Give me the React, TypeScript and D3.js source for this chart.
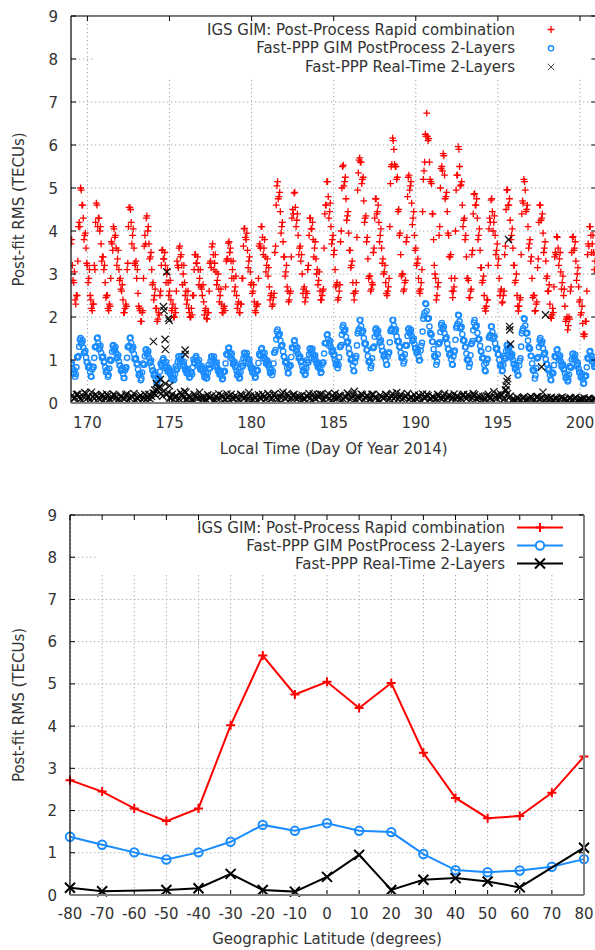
import React from "react";
import * as d3 from "d3";

// ---------- Top panel data (station A samples every 2 h from DOY 169.0) ----------
const igsRms: number[] = [
  3.7, 3.2, 2.8, 2.4, 2.5, 3.3, 4.2, 5.0, 4.6, 4.3, 3.9, 3.6,
  3.2, 2.9, 2.5, 2.2, 2.3, 3.2, 4.2, 4.6, 4.3, 4.0, 3.7, 3.4,
  3.1, 2.8, 2.5, 2.2, 2.3, 2.9, 3.7, 4.1, 3.85, 3.6, 3.35, 3.1,
  2.9, 2.6, 2.4, 2.1, 2.3, 3.1, 4.1, 4.55, 4.2, 3.9, 3.6, 3.2,
  2.9, 2.55, 2.2, 1.9, 2.1, 2.9, 3.9, 4.3, 4.0, 3.7, 3.4, 3.1,
  2.8, 2.5, 2.2, 1.9, 2.1, 2.5, 3.2, 3.56, 3.35, 3.2, 3.0, 2.8,
  2.6, 2.4, 2.2, 2.0, 2.2, 2.6, 3.2, 3.6, 3.4, 3.2, 3.0, 2.8,
  2.6, 2.4, 2.2, 2.0, 2.2, 2.5, 3.1, 3.45, 3.25, 3.1, 2.9, 2.7,
  2.5, 2.35, 2.15, 1.97, 2.1, 2.6, 3.3, 3.63, 3.45, 3.25, 3.05, 2.85,
  2.65, 2.5, 2.3, 2.1, 2.25, 2.7, 3.35, 3.72, 3.5, 3.3, 3.1, 2.9,
  2.7, 2.5, 2.3, 2.1, 2.3, 2.9, 3.65, 4.06, 3.8, 3.55, 3.3, 3.05,
  2.8, 2.6, 2.35, 2.1, 2.3, 2.9, 3.7, 4.1, 3.85, 3.6, 3.4, 3.2,
  2.95, 2.7, 2.5, 2.25, 2.45, 3.5, 4.6, 5.15, 4.8, 4.45, 4.1, 3.75,
  3.4, 3.05, 2.7, 2.35, 2.55, 3.4, 4.5, 4.88, 4.55, 4.25, 3.9, 3.6,
  3.3, 3.0, 2.65, 2.35, 2.6, 3.1, 3.9, 4.3, 4.05, 3.8, 3.6, 3.35,
  3.1, 2.85, 2.6, 2.4, 2.6, 3.6, 4.6, 5.15, 4.8, 4.45, 4.1, 3.8,
  3.45, 3.1, 2.75, 2.4, 2.6, 3.75, 5.0, 5.53, 5.15, 4.75, 4.35, 3.95,
  3.55, 3.2, 2.8, 2.4, 2.6, 3.85, 5.35, 5.7, 5.6, 5.2, 4.7, 4.3,
  3.75, 3.35, 2.95, 2.6, 2.8, 3.5, 4.3, 4.75, 4.45, 4.2, 3.9, 3.6,
  3.35, 3.05, 2.8, 2.5, 2.7, 4.1, 5.5, 6.16, 5.9, 5.5, 5.2, 4.45,
  3.9, 3.45, 3.0, 2.6, 2.8, 3.75, 4.8, 5.3, 5.05, 4.65, 4.3, 3.9,
  3.6, 3.25, 2.9, 2.55, 2.8, 4.45, 5.4, 6.25, 6.74, 6.1, 5.6, 5.15,
  4.4, 3.8, 3.0, 2.4, 2.7, 3.9, 5.0, 5.5, 5.8, 5.3, 4.8, 4.45,
  3.9, 3.4, 2.9, 2.45, 2.7, 4.0, 5.3, 5.96, 5.5, 5.07, 4.6, 4.25,
  3.8, 3.4, 2.9, 2.45, 2.6, 3.45, 4.4, 4.87, 4.6, 4.3, 3.9, 3.55,
  3.15, 2.85, 2.5, 2.14, 2.4, 3.2, 4.3, 4.72, 4.45, 4.2, 3.9, 3.55,
  3.2, 2.9, 2.6, 2.33, 2.5, 3.45, 4.5, 4.96, 4.6, 4.25, 3.9, 3.6,
  3.2, 2.85, 2.5, 2.14, 2.4, 3.45, 4.7, 5.2, 4.95, 4.5, 4.1, 3.7,
  3.3, 2.9, 2.5, 2.14, 2.3, 3.15, 4.2, 4.6, 4.3, 3.95, 3.6, 3.3,
  2.95, 2.6, 2.3, 1.97, 2.2, 2.7, 3.5, 3.87, 3.6, 3.35, 3.05, 2.8,
  2.5, 2.25, 1.95, 1.7, 2.0, 2.6, 3.5, 3.87, 3.6, 3.3, 3.0, 2.7,
  2.4, 2.1, 1.85, 1.55, 1.9, 2.6, 3.7, 4.1, 3.9, 3.7, 3.5, 3.3,
];

// station B, every 2 h from DOY 169.04
const igsRmsB: number[] = [
  3.8, 2.85, 3.05, 2.3, 2.5, 4.1, 4.1, 4.95, 4.6, 3.8, 3.95, 3.25,
  2.8, 3.1, 2.4, 2.15, 2.3, 3.1, 4.65, 4.1, 4.3, 4.1, 3.3, 3.4,
  3.2, 2.45, 2.5, 2.15, 2.25, 3.75, 3.55, 4.05, 3.9, 3.2, 3.55, 2.85,
  2.65, 2.75, 2.1, 2.2, 2.25, 3.25, 4.55, 4.5, 3.7, 4.05, 3.25, 3.3,
  3.1, 2.25, 2.15, 1.9, 2.15, 3.65, 3.7, 4.35, 4.1, 3.35, 3.5, 2.75,
  2.4, 2.65, 2.2, 1.95, 2.05, 2.6, 3.55, 3.35, 3.5, 2.8, 3.1, 2.5,
  2.85, 2.15, 2.3, 2.0, 2.1, 3.3, 3.15, 3.65, 3.45, 2.75, 3.2, 2.5,
  2.3, 2.6, 2.1, 2.0, 2.05, 2.5, 3.45, 3.25, 3.4, 2.75, 3.1, 2.65,
  2.75, 2.05, 2.2, 1.95, 2.1, 3.25, 3.15, 3.7, 3.1, 3.45, 2.75, 3.0,
  2.35, 2.65, 2.1, 2.2, 2.15, 3.3, 3.35, 3.75, 3.6, 2.9, 3.3, 2.6,
  2.95, 2.2, 2.35, 2.1, 2.3, 2.9, 4.05, 3.85, 3.95, 3.15, 3.4, 2.75,
  2.55, 2.75, 2.15, 2.25, 2.3, 3.65, 3.6, 4.1, 3.45, 3.8, 3.05, 3.35,
  3.15, 2.4, 2.55, 2.3, 2.55, 3.65, 5.05, 4.75, 4.9, 3.95, 4.2, 3.4,
  2.95, 3.2, 2.6, 2.4, 2.6, 4.3, 4.4, 4.9, 4.1, 4.4, 3.45, 3.65,
  3.45, 2.55, 2.7, 2.45, 2.55, 3.2, 4.3, 4.05, 4.2, 3.4, 3.75, 3.0,
  2.75, 3.05, 2.4, 2.5, 2.65, 4.4, 4.6, 5.15, 4.3, 4.65, 3.7, 3.9,
  3.55, 2.7, 2.8, 2.45, 2.75, 4.0, 5.5, 5.05, 5.25, 4.25, 4.45, 3.55,
  3.15, 3.3, 2.55, 2.55, 2.8, 4.95, 5.65, 5.6, 5.1, 5.25, 4.2, 4.35,
  3.85, 2.9, 2.95, 2.65, 2.75, 3.6, 4.75, 4.4, 4.6, 3.75, 4.05, 3.25,
  3.0, 3.2, 2.55, 2.6, 2.9, 5.1, 5.55, 6.1, 5.55, 5.5, 5.25, 4.5,
  3.95, 2.95, 3.0, 2.65, 2.85, 3.85, 5.25, 4.95, 5.15, 4.15, 4.45, 3.55,
  3.2, 3.35, 2.6, 2.65, 3.1, 5.2, 5.6, 6.2, 6.2, 6.15, 5.2, 5.1,
  4.4, 3.2, 2.9, 2.5, 2.8, 4.1, 5.45, 5.4, 5.75, 4.75, 4.9, 3.95,
  3.4, 3.45, 2.6, 2.6, 2.9, 4.95, 5.3, 5.9, 5.05, 5.15, 4.1, 4.3,
  3.9, 2.9, 2.85, 2.45, 2.65, 3.55, 4.85, 4.6, 4.75, 3.8, 4.05, 3.15,
  2.8, 2.95, 2.2, 2.25, 2.4, 4.05, 4.2, 4.75, 4.0, 4.35, 3.45, 3.7,
  3.35, 2.5, 2.65, 2.35, 2.6, 3.65, 4.95, 4.6, 4.75, 3.8, 4.05, 3.2,
  2.8, 3.0, 2.25, 2.25, 2.45, 4.4, 4.65, 5.15, 4.45, 4.6, 3.6, 3.8,
  3.4, 2.45, 2.5, 2.15, 2.35, 3.35, 4.6, 4.25, 4.4, 3.5, 3.75, 2.9,
  2.6, 2.75, 2.0, 2.05, 2.1, 3.4, 3.45, 3.85, 3.2, 3.5, 2.65, 2.95,
  2.65, 1.9, 2.0, 1.8, 1.95, 2.7, 3.85, 3.55, 3.75, 2.85, 3.15, 2.35,
  2.05, 2.25, 1.6, 1.6, 1.9, 3.45, 3.65, 4.1, 3.5, 3.9, 3.1, 3.45,
];

const gimPpRms: number[] = [
  0.9, 0.8, 0.7, 0.61, 0.83, 1.06, 1.31, 1.51, 1.4, 1.29, 1.17, 1.06,
  0.95, 0.84, 0.72, 0.61, 0.83, 1.05, 1.3, 1.5, 1.39, 1.28, 1.17, 1.06,
  0.95, 0.83, 0.72, 0.61, 0.8, 0.98, 1.19, 1.35, 1.25, 1.16, 1.06, 0.97,
  0.87, 0.77, 0.68, 0.58, 0.81, 1.05, 1.31, 1.51, 1.39, 1.26, 1.14, 1.02,
  0.9, 0.78, 0.65, 0.53, 0.71, 0.89, 1.09, 1.25, 1.15, 1.05, 0.95, 0.85,
  0.76, 0.66, 0.56, 0.46, 0.6, 0.73, 0.88, 1.0, 0.94, 0.88, 0.82, 0.76,
  0.7, 0.64, 0.59, 0.53, 0.67, 0.8, 0.96, 1.08, 1.02, 0.96, 0.9, 0.84,
  0.79, 0.73, 0.67, 0.61, 0.72, 0.83, 0.95, 1.05, 0.99, 0.93, 0.87, 0.81,
  0.75, 0.69, 0.63, 0.57, 0.7, 0.82, 0.97, 1.08, 1.02, 0.95, 0.89, 0.82,
  0.76, 0.7, 0.63, 0.57, 0.75, 0.92, 1.12, 1.27, 1.18, 1.1, 1.01, 0.92,
  0.83, 0.75, 0.66, 0.57, 0.72, 0.87, 1.04, 1.17, 1.1, 1.03, 0.96, 0.89,
  0.82, 0.75, 0.68, 0.61, 0.77, 0.93, 1.11, 1.25, 1.17, 1.1, 1.02, 0.95,
  0.87, 0.8, 0.72, 0.65, 0.92, 1.18, 1.48, 1.71, 1.58, 1.45, 1.33, 1.2,
  1.07, 0.95, 0.82, 0.69, 0.88, 1.07, 1.28, 1.44, 1.34, 1.24, 1.14, 1.05,
  0.95, 0.85, 0.75, 0.65, 0.81, 0.96, 1.13, 1.27, 1.2, 1.13, 1.06, 0.99,
  0.93, 0.86, 0.79, 0.72, 0.94, 1.15, 1.39, 1.58, 1.48, 1.39, 1.29, 1.2,
  1.1, 1.0, 0.91, 0.81, 1.06, 1.31, 1.59, 1.81, 1.68, 1.54, 1.41, 1.27,
  1.14, 1.01, 0.87, 0.74, 1.04, 1.34, 1.67, 1.93, 1.79, 1.65, 1.51, 1.37,
  1.23, 1.09, 0.95, 0.81, 1.04, 1.28, 1.54, 1.74, 1.63, 1.53, 1.42, 1.32,
  1.21, 1.1, 1.0, 0.89, 1.15, 1.41, 1.7, 1.93, 1.8, 1.68, 1.55, 1.43,
  1.3, 1.17, 1.05, 0.92, 1.13, 1.33, 1.56, 1.74, 1.65, 1.56, 1.46, 1.37,
  1.28, 1.19, 1.09, 1.0, 1.33, 1.66, 2.03, 2.32, 2.14, 1.96, 1.78, 1.6,
  1.43, 1.25, 1.07, 0.89, 1.13, 1.38, 1.65, 1.86, 1.74, 1.62, 1.5, 1.38,
  1.25, 1.13, 1.01, 0.89, 1.18, 1.47, 1.79, 2.05, 1.9, 1.75, 1.6, 1.45,
  1.3, 1.15, 0.99, 0.84, 1.11, 1.39, 1.69, 1.93, 1.78, 1.63, 1.48, 1.33,
  1.19, 1.04, 0.89, 0.74, 1.0, 1.26, 1.55, 1.78, 1.65, 1.52, 1.39, 1.26,
  1.13, 1.0, 0.87, 0.74, 0.89, 1.05, 1.21, 1.35, 1.26, 1.17, 1.09, 1.0,
  0.91, 0.82, 0.74, 0.65, 0.98, 1.31, 1.68, 1.97, 1.8, 1.62, 1.45, 1.27,
  1.1, 0.92, 0.75, 0.57, 0.81, 1.04, 1.3, 1.51, 1.39, 1.27, 1.14, 1.02,
  0.9, 0.78, 0.65, 0.53, 0.71, 0.88, 1.07, 1.23, 1.14, 1.05, 0.96, 0.87,
  0.78, 0.69, 0.59, 0.5, 0.66, 0.83, 1.01, 1.15, 1.06, 0.98, 0.89, 0.8,
  0.72, 0.63, 0.55, 0.46, 0.64, 0.83, 1.03, 1.19, 1.1, 1.02, 0.94, 0.86,
];

const gimPpRmsB: number[] = [
  0.93, 0.69, 0.76, 0.67, 1.07, 1.09, 1.47, 1.38, 1.45, 1.16, 1.21, 0.95,
  0.83, 0.87, 0.62, 0.78, 0.84, 1.3, 1.32, 1.52, 1.25, 1.33, 1.06, 1.08,
  0.97, 0.72, 0.77, 0.65, 1.01, 0.99, 1.33, 1.22, 1.3, 1.04, 1.11, 0.87,
  0.75, 0.81, 0.58, 0.76, 0.83, 1.3, 1.33, 1.52, 1.23, 1.3, 1.02, 1.04,
  0.92, 0.65, 0.69, 0.57, 0.92, 0.89, 1.23, 1.12, 1.2, 0.93, 0.99, 0.75,
  0.64, 0.7, 0.46, 0.59, 0.56, 0.92, 0.86, 1.04, 0.82, 0.95, 0.73, 0.81,
  0.75, 0.55, 0.66, 0.55, 0.85, 0.78, 1.08, 0.97, 1.09, 0.86, 0.96, 0.76,
  0.69, 0.79, 0.59, 0.72, 0.67, 1.01, 0.92, 1.09, 0.87, 1.0, 0.78, 0.86,
  0.8, 0.6, 0.7, 0.58, 0.88, 0.8, 1.08, 0.97, 1.08, 0.85, 0.94, 0.74,
  0.66, 0.75, 0.55, 0.72, 0.73, 1.14, 1.12, 1.29, 1.05, 1.15, 0.9, 0.95,
  0.87, 0.64, 0.71, 0.59, 0.92, 0.85, 1.16, 1.05, 1.16, 0.92, 1.01, 0.8,
  0.71, 0.8, 0.59, 0.75, 0.75, 1.14, 1.1, 1.28, 1.04, 1.16, 0.92, 0.99,
  0.91, 0.7, 0.78, 0.73, 1.17, 1.23, 1.66, 1.56, 1.61, 1.32, 1.35, 1.08,
  0.94, 0.97, 0.7, 0.84, 0.87, 1.29, 1.28, 1.46, 1.2, 1.29, 1.04, 1.08,
  0.98, 0.74, 0.8, 0.68, 1.0, 0.94, 1.26, 1.15, 1.26, 1.02, 1.11, 0.91,
  0.83, 0.91, 0.7, 0.89, 0.94, 1.39, 1.4, 1.6, 1.34, 1.44, 1.18, 1.23,
  1.13, 0.89, 0.96, 0.88, 1.3, 1.35, 1.76, 1.66, 1.71, 1.4, 1.43, 1.15,
  1.0, 1.03, 0.75, 0.95, 1.09, 1.62, 1.72, 1.93, 1.63, 1.68, 1.38, 1.38,
  1.24, 0.96, 0.98, 0.87, 1.28, 1.31, 1.7, 1.6, 1.68, 1.4, 1.46, 1.21,
  1.08, 1.14, 0.89, 1.08, 1.18, 1.67, 1.73, 1.93, 1.65, 1.71, 1.43, 1.44,
  1.31, 1.05, 1.08, 0.97, 1.35, 1.34, 1.71, 1.62, 1.7, 1.44, 1.5, 1.27,
  1.16, 1.23, 0.99, 1.22, 1.4, 1.96, 2.1, 2.3, 1.96, 1.97, 1.63, 1.59,
  1.42, 1.1, 1.08, 0.96, 1.37, 1.41, 1.81, 1.72, 1.78, 1.49, 1.53, 1.26,
  1.12, 1.16, 0.9, 1.09, 1.22, 1.75, 1.84, 2.04, 1.73, 1.77, 1.46, 1.45,
  1.3, 1.01, 1.01, 0.92, 1.37, 1.44, 1.87, 1.77, 1.8, 1.48, 1.49, 1.21,
  1.04, 1.05, 0.76, 0.93, 1.03, 1.52, 1.58, 1.78, 1.49, 1.55, 1.26, 1.27,
  1.14, 0.87, 0.9, 0.76, 1.09, 1.03, 1.34, 1.22, 1.31, 1.06, 1.13, 0.9,
  0.79, 0.87, 0.64, 0.87, 1.04, 1.62, 1.74, 1.95, 1.62, 1.63, 1.3, 1.26,
  1.09, 0.77, 0.76, 0.64, 1.04, 1.07, 1.46, 1.37, 1.43, 1.13, 1.17, 0.91,
  0.77, 0.8, 0.54, 0.68, 0.69, 1.09, 1.07, 1.25, 1.0, 1.1, 0.85, 0.9,
  0.81, 0.58, 0.64, 0.53, 0.86, 0.82, 1.14, 1.02, 1.12, 0.86, 0.93, 0.71,
  0.6, 0.68, 0.45, 0.61, 0.63, 1.05, 1.03, 1.21, 0.97, 1.08, 0.84, 0.9,
];

// real-time band, every 4 h from DOY 169.08 (A) and 169.17 (B)
const rtRms: number[] = [
  0.18, 0.12, 0.2, 0.09, 0.15, 0.22, 0.14, 0.25, 0.1, 0.16, 0.08, 0.19,
  0.12, 0.17, 0.07, 0.2, 0.13, 0.1, 0.16, 0.09, 0.21, 0.11, 0.14, 0.07,
  0.1, 0.18, 0.12, 0.08, 0.2, 0.15, 0.22, 0.3, 0.38, 0.16, 0.45, 0.25,
  0.12, 0.08, 0.17, 0.1, 0.2, 0.27, 0.09, 0.14, 0.06, 0.18, 0.11, 0.13,
  0.15, 0.08, 0.12, 0.17, 0.07, 0.1, 0.1, 0.16, 0.08, 0.13, 0.2, 0.09,
  0.14, 0.07, 0.18, 0.11, 0.09, 0.16, 0.08, 0.13, 0.19, 0.1, 0.15, 0.12,
  0.17, 0.11, 0.22, 0.09, 0.14, 0.25, 0.1, 0.16, 0.12, 0.2, 0.08, 0.14,
  0.18, 0.09, 0.15, 0.12, 0.21, 0.1, 0.13, 0.2, 0.08, 0.16, 0.11, 0.18,
  0.22, 0.12, 0.17, 0.09, 0.14, 0.2, 0.11, 0.27, 0.15, 0.1, 0.19, 0.13,
  0.16, 0.09, 0.2, 0.12, 0.08, 0.15, 0.12, 0.18, 0.1, 0.22, 0.14, 0.09,
  0.2, 0.11, 0.16, 0.08, 0.13, 0.19, 0.09, 0.15, 0.21, 0.12, 0.17, 0.1,
  0.14, 0.1, 0.18, 0.08, 0.22, 0.13, 0.17, 0.12, 0.09, 0.15, 0.11, 0.2,
  0.1, 0.16, 0.13, 0.19, 0.08, 0.14, 0.15, 0.09, 0.2, 0.12, 0.26, 0.11,
  0.13, 0.18, 0.1, 0.22, 0.16, 0.09, 0.06, 0.1, 0.08, 0.14, 0.07, 0.11,
  0.12, 0.07, 0.15, 0.09, 0.25, 0.1, 0.08, 0.13, 0.06, 0.11, 0.09, 0.14,
  0.1, 0.06, 0.12, 0.08, 0.13, 0.07, 0.09, 0.12, 0.07, 0.1, 0.06, 0.11,
];
const rtRmsB: number[] = [
  0.1, 0.2, 0.14, 0.06, 0.24, 0.12, 0.08, 0.15, 0.2, 0.11, 0.17, 0.05,
  0.21, 0.09, 0.14, 0.18, 0.06, 0.15, 0.11, 0.19, 0.06, 0.16, 0.22, 0.12,
  0.15, 0.07, 0.2, 0.13, 0.09, 0.23, 0.18, 0.35, 0.22, 0.28, 0.2, 0.12,
  0.2, 0.15, 0.06, 0.24, 0.12, 0.08, 0.16, 0.06, 0.2, 0.12, 0.25, 0.08,
  0.07, 0.19, 0.14, 0.06, 0.16, 0.21, 0.18, 0.08, 0.21, 0.07, 0.12, 0.17,
  0.09, 0.2, 0.11, 0.16, 0.24, 0.06, 0.17, 0.06, 0.12, 0.2, 0.08, 0.22,
  0.08, 0.19, 0.13, 0.06, 0.21, 0.11, 0.22, 0.07, 0.18, 0.13, 0.16, 0.06,
  0.09, 0.16, 0.22, 0.07, 0.12, 0.19, 0.2, 0.07, 0.14, 0.22, 0.06, 0.12,
  0.1, 0.18, 0.06, 0.14, 0.23, 0.08, 0.19, 0.08, 0.12, 0.21, 0.07, 0.17,
  0.08, 0.2, 0.13, 0.06, 0.18, 0.11, 0.2, 0.07, 0.16, 0.1, 0.24, 0.13,
  0.08, 0.15, 0.22, 0.13, 0.07, 0.11, 0.18, 0.06, 0.12, 0.2, 0.09, 0.15,
  0.07, 0.2, 0.12, 0.15, 0.06, 0.18, 0.09, 0.21, 0.16, 0.06, 0.18, 0.13,
  0.19, 0.07, 0.22, 0.1, 0.16, 0.06, 0.07, 0.17, 0.12, 0.08, 0.14, 0.19,
  0.21, 0.08, 0.3, 0.12, 0.06, 0.05, 0.13, 0.04, 0.12, 0.06, 0.09, 0.15,
  0.05, 0.14, 0.09, 0.11, 0.07, 0.13, 0.11, 0.06, 0.1, 0.05, 0.12, 0.07,
  0.05, 0.1, 0.07, 0.11, 0.05, 0.09, 0.07, 0.05, 0.1, 0.06, 0.09, 0.05,
];

const rtSpikeDays: number[] = [174.02, 174.1, 174.2, 174.35, 174.45, 174.63, 174.67, 174.73, 174.74, 174.94, 174.98, 175.0, 175.95, 175.96, 176.0, 195.46, 195.5, 195.55, 195.59, 195.65, 195.71, 195.73, 195.77, 197.66, 197.9, 174.83];
const rtSpikeValues: number[] = [1.43, 0.3, 0.45, 0.35, 0.55, 2.24, 2.15, 1.48, 1.25, 1.97, 1.92, 0.4, 1.23, 1.13, 0.25, 0.3, 0.4, 0.5, 0.57, 3.8, 1.78, 1.7, 1.37, 0.84, 2.05, 3.05];

const topXTicks: number[] = [170, 175, 180, 185, 190, 195, 200];
const yTicks: number[] = [0, 1, 2, 3, 4, 5, 6, 7, 8, 9];

// ---------- Bottom panel data ----------
const latitudes: number[] = [-80, -70, -60, -50, -40, -30, -20, -10, 0, 10, 20, 30, 40, 50, 60, 70, 80];
const igsByLat: number[] = [2.72, 2.45, 2.05, 1.75, 2.05, 4.02, 5.67, 4.75, 5.05, 4.43, 5.02, 3.37, 2.3, 1.82, 1.87, 2.42, 3.28];
const gimPpByLat: number[] = [1.38, 1.19, 1.01, 0.84, 1.01, 1.26, 1.66, 1.52, 1.7, 1.52, 1.49, 0.97, 0.59, 0.54, 0.58, 0.67, 0.85];
const rtByLat: (number | null)[] = [0.17, 0.09, null, 0.12, 0.16, 0.5, 0.12, 0.08, 0.43, 0.95, 0.12, 0.36, 0.4, 0.32, 0.18, null, 1.12];
const latTicks: number[] = [-80, -70, -60, -50, -40, -30, -20, -10, 0, 10, 20, 30, 40, 50, 60, 70, 80];

const seriesNames: string[] = [
  "IGS GIM: Post-Process Rapid combination",
  "Fast-PPP GIM PostProcess 2-Layers",
  "Fast-PPP Real-Time 2-Layers",
];

const RED = "#ff0000";
const BLUE = "#1a8cff";
const BLACK = "#000000";
const TEXT = "#333333";
const FONT = "'DejaVu Sans', Verdana, sans-serif";
const FS = 15;

const plusPath = (x: number, y: number, s: number) => `M${x - s},${y}H${x + s}M${x},${y - s}V${y + s}`;
const crossPath = (x: number, y: number, s: number) => `M${x - s},${y - s}L${x + s},${y + s}M${x - s},${y + s}L${x + s},${y - s}`;

type Frame = { x0: number; x1: number; y0: number; y1: number };

function Grid({ f, x, y, xt }: any) {
  const grid = "#a8a8a8";
  return (
    <g>
      {xt.map((t: number) => (
        <line key={"gx" + t} x1={x(t)} x2={x(t)} y1={f.y1} y2={f.y0} stroke={grid} strokeWidth={1} strokeDasharray="1.3,2.7" />
      ))}
      {yTicks.map((t) => (
        <line key={"gy" + t} x1={f.x0} x2={f.x1} y1={y(t)} y2={y(t)} stroke={grid} strokeWidth={1} strokeDasharray="1.3,2.7" />
      ))}
    </g>
  );
}

function FrameAxes({ f, x, y, xt, xlabel, xLabelY, xTitleY }: any) {
  return (
    <g>
      {xt.map((t: number) => (
        <g key={"tx" + t}>
          <line x1={x(t)} x2={x(t)} y1={f.y0} y2={f.y0 - 5} stroke="#000" />
          <line x1={x(t)} x2={x(t)} y1={f.y1} y2={f.y1 + 5} stroke="#000" />
          <text x={x(t)} y={xLabelY} textAnchor="middle" fontSize={FS} fill={TEXT} fontFamily={FONT}>{t}</text>
        </g>
      ))}
      {yTicks.map((t) => (
        <g key={"ty" + t}>
          <line x1={f.x0} x2={f.x0 + 5} y1={y(t)} y2={y(t)} stroke="#000" />
          <line x1={f.x1} x2={f.x1 - 5} y1={y(t)} y2={y(t)} stroke="#000" />
          <text x={f.x0 - 13} y={y(t) + 5.5} textAnchor="end" fontSize={FS} fill={TEXT} fontFamily={FONT}>{t}</text>
        </g>
      ))}
      <line x1={f.x0} x2={f.x1} y1={f.y1} y2={f.y1} stroke="#000" strokeWidth={1.2} />
      <line x1={f.x0} x2={f.x0} y1={f.y1} y2={f.y0} stroke="#000" strokeWidth={1.2} />
      <line x1={f.x1} x2={f.x1} y1={f.y1} y2={f.y0} stroke="#808080" strokeWidth={2} />
      <line x1={f.x0} x2={f.x1} y1={f.y0} y2={f.y0} stroke="#808080" strokeWidth={2} />
      <text x={(f.x0 + f.x1) / 2} y={xTitleY} textAnchor="middle" fontSize={FS} fill={TEXT} fontFamily={FONT}>{xlabel}</text>
      <text transform={`translate(23.5,${(f.y0 + f.y1) / 2}) rotate(-90)`} textAnchor="middle" fontSize={FS} fill={TEXT} fontFamily={FONT}>Post-fit RMS (TECUs)</text>
    </g>
  );
}

export default function App() {
  // top panel
  const ft: Frame = { x0: 71, x1: 596.4, y0: 403, y1: 16 };
  const xT = d3.scaleLinear().domain([169, 201]).range([ft.x0, ft.x1]);
  const yT = d3.scaleLinear().domain([0, 9]).range([ft.y0, ft.y1]);
  const redPts = igsRms.map((v, i) => [169 + i / 12, v]).concat(igsRmsB.map((v, i) => [169 + 1 / 24 + i / 12, v]));
  const bluePts = gimPpRms.map((v, i) => [169 + i / 12, v]).concat(gimPpRmsB.map((v, i) => [169 + 1 / 24 + i / 12, v]));
  const blackPts = rtRms
    .map((v, i) => [169 + 1 / 12 + i / 6, v])
    .concat(rtRmsB.map((v, i) => [169 + 1 / 6 + i / 6, v]))
    .concat(rtSpikeDays.map((d, i) => [d, rtSpikeValues[i]]));

  // bottom panel
  const fb: Frame = { x0: 70, x1: 584, y0: 895, y1: 515 };
  const xB = d3.scaleLinear().domain([-80, 80]).range([fb.x0, fb.x1]);
  const yB = d3.scaleLinear().domain([0, 9]).range([fb.y0, fb.y1]);
  const lineB = d3.line<[number, number]>().x((d) => xB(d[0])).y((d) => yB(d[1]));
  const redB = latitudes.map((l, i) => [l, igsByLat[i]] as [number, number]);
  const blueB = latitudes.map((l, i) => [l, gimPpByLat[i]] as [number, number]);
  const blackB = latitudes.map((l, i) => [l, rtByLat[i]]).filter((d) => d[1] !== null) as [number, number][];

  const legTopRows = [34.5, 53, 71.5];
  const legBotRows = [532.5, 550.5, 568.5];

  return (
    <svg width={595} height={950} style={{ position: "absolute", left: 0, top: 0, background: "#fff" }} fontFamily={FONT}>
      <defs>
        <clipPath id="clipTop"><rect x={ft.x0} y={ft.y1} width={ft.x1 - ft.x0} height={ft.y0 - ft.y1} /></clipPath>
      </defs>
      <rect width={595} height={950} fill="#fff" />
      {/* ---------- TOP ---------- */}
      <Grid f={ft} x={xT} y={yT} xt={topXTicks} />
      <rect x={95} y={ft.y1} width={ft.x1 - 95} height={61} fill="#fff" />
      <g clipPath="url(#clipTop)">
        {redPts.map((d, i) => (
          <path key={"r" + i} d={plusPath(xT(d[0]), yT(d[1]), 3.4)} stroke={RED} strokeWidth={1.3} fill="none" />
        ))}
        {bluePts.map((d, i) => (
          <circle key={"b" + i} cx={xT(d[0])} cy={yT(d[1])} r={2.6} stroke={BLUE} strokeWidth={1.4} fill="none" />
        ))}
        {blackPts.map((d, i) => (
          <path key={"k" + i} d={crossPath(xT(d[0]), yT(d[1]), 3.6)} stroke={BLACK} strokeWidth={1.3} strokeOpacity={0.9} fill="none" />
        ))}
      </g>
      <FrameAxes f={ft} x={xT} y={yT} xt={topXTicks} xlabel="Local Time (Day Of Year 2014)" xLabelY={428} xTitleY={454} />
      {seriesNames.map((s, i) => (
        <text key={"lt" + i} x={515} y={legTopRows[i]} textAnchor="end" fontSize={FS} fill={TEXT}>{s}</text>
      ))}
      <path d={plusPath(551, 29.5, 3.4)} stroke={RED} strokeWidth={1.3} fill="none" />
      <circle cx={551} cy={48.3} r={2.6} stroke={BLUE} strokeWidth={1.4} fill="none" />
      <path d={crossPath(551, 67, 3.3)} stroke={BLACK} strokeWidth={1} strokeOpacity={0.7} fill="none" />

      {/* ---------- BOTTOM ---------- */}
      <Grid f={fb} x={xB} y={yB} xt={latTicks} />
      <rect x={96} y={fb.y1} width={fb.x1 - 96} height={58} fill="#fff" />
      <path d={lineB(redB) || ""} stroke={RED} strokeWidth={2} fill="none" />
      {redB.map((d, i) => (
        <path key={"rb" + i} d={plusPath(xB(d[0]), yB(d[1]), 4.5)} stroke={RED} strokeWidth={2} fill="none" />
      ))}
      <path d={lineB(blueB) || ""} stroke={BLUE} strokeWidth={2} fill="none" />
      {blueB.map((d, i) => (
        <circle key={"bb" + i} cx={xB(d[0])} cy={yB(d[1])} r={4.2} stroke={BLUE} strokeWidth={2} fill="none" />
      ))}
      <path d={lineB(blackB) || ""} stroke={BLACK} strokeWidth={2} fill="none" />
      {blackB.map((d, i) => (
        <path key={"kb" + i} d={crossPath(xB(d[0]), yB(d[1]), 5)} stroke={BLACK} strokeWidth={2} fill="none" />
      ))}
      <FrameAxes f={fb} x={xB} y={yB} xt={latTicks} xlabel="Geographic Latitude (degrees)" xLabelY={919} xTitleY={944} />
      {seriesNames.map((s, i) => (
        <text key={"lb" + i} x={505} y={legBotRows[i]} textAnchor="end" fontSize={FS} fill={TEXT}>{s}</text>
      ))}
      <line x1={517} x2={563} y1={527.5} y2={527.5} stroke={RED} strokeWidth={2} />
      <path d={plusPath(540, 527.5, 4.5)} stroke={RED} strokeWidth={2} fill="none" />
      <line x1={517} x2={563} y1={545.5} y2={545.5} stroke={BLUE} strokeWidth={2} />
      <circle cx={540} cy={545.5} r={4.2} stroke={BLUE} strokeWidth={2} fill="#fff" />
      <line x1={517} x2={563} y1={563.5} y2={563.5} stroke={BLACK} strokeWidth={2} />
      <path d={crossPath(540, 563.5, 5)} stroke={BLACK} strokeWidth={2} fill="none" />
    </svg>
  );
}
